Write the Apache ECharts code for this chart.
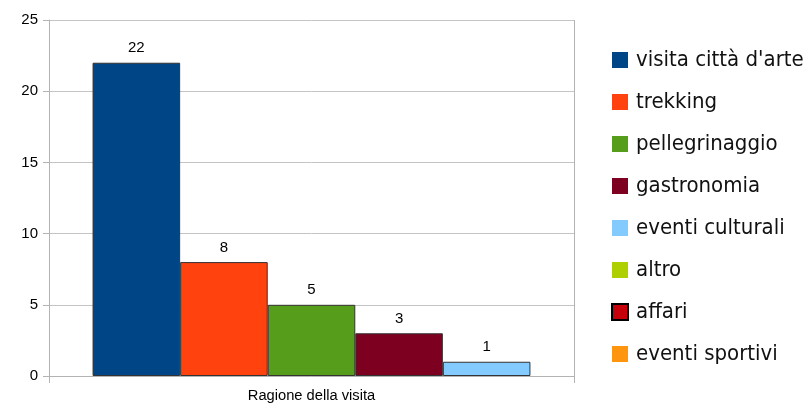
<!DOCTYPE html>
<html><head><meta charset="utf-8">
<script src="https://cdn.jsdelivr.net/npm/echarts@6/dist/echarts.min.js"></script>
<style>html,body{margin:0;padding:0;background:#fff}#c{width:812px;height:406px}</style>
</head><body><div id="c"></div>
<script>
const categories = ["Ragione della visita"];
const seriesNames = ["visita città d'arte","trekking","pellegrinaggio","gastronomia","eventi culturali","altro","affari","eventi sportivi"];
const seriesValues = [22, 8, 5, 3, 1, null, null, null];
const seriesColors = ["#004586","#ff420e","#579d1c","#7e0021","#83caff","#aecf00","#c5000b","#ff950e"];
const yTicks = [0,5,10,15,20,25];

const chart = echarts.init(document.getElementById('c'), null, {renderer:'canvas'});
const series = seriesNames.map((n,i)=>({
  name:n, type:'bar',
  stack: i>=4 ? 'last' : ('s'+i),
  data:[seriesValues[i]],
  barGap:'0%', barCategoryGap:'16.6%',
  itemStyle:{color:seriesColors[i], borderColor:'#333', borderWidth:1},
  label:{show:seriesValues[i]!=null, position:'top', distance:7, color:'#000', fontSize:15, fontFamily:'Liberation Sans'}
}));
chart.setOption({
  animation:false,
  grid:{left:49, right:238, top:20, bottom:30, containLabel:false},
  legend:{
    orient:'vertical', left:606, top:44,
    itemWidth:16, itemHeight:16, itemGap:20, icon:'rect',
    textStyle:{fontSize:22, lineHeight:22, fontFamily:'DejaVu Sans Condensed', color:'#111', padding:[0,0,0,3]},
    data: seriesNames.map((n,i)=>({name:n, itemStyle: i===6 ? {borderColor:'#000', borderWidth:2} : {borderWidth:0}}))
  },
  xAxis:{type:'category', data:categories,
    axisLine:{lineStyle:{color:'#b3b3b3'}},
    axisTick:{show:true, length:7, lineStyle:{color:'#b3b3b3'}},
    splitLine:{show:true, lineStyle:{color:'#b3b3b3'}},
    axisLabel:{color:'#000', fontSize:14.7, fontFamily:'Liberation Sans', margin:12}},
  yAxis:{type:'value', min:0, max:25, interval:5,
    axisLine:{show:true, lineStyle:{color:'#b3b3b3'}},
    axisTick:{show:true, length:6, lineStyle:{color:'#b3b3b3'}},
    splitLine:{lineStyle:{color:'#c4c4c4'}},
    axisLabel:{color:'#000', fontSize:15, fontFamily:'Liberation Sans', margin:11, customValues: yTicks}},
  series
});
</script></body></html>
